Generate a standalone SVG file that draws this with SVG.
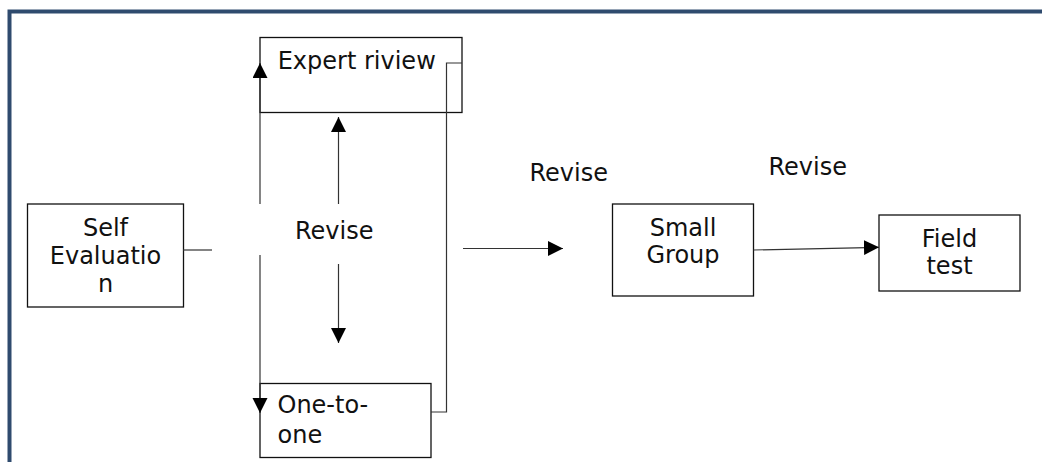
<svg xmlns="http://www.w3.org/2000/svg" width="1042" height="462" viewBox="0 0 1042 462">
<defs>
<style>
.box{fill:#fff;stroke:#111;stroke-width:1.3}
.ln{fill:none;stroke:#333;stroke-width:1.2}
.t{font-family:"DejaVu Sans",sans-serif;font-size:24px;fill:#111}
.c{text-anchor:middle}
</style>
<marker id="ah" markerUnits="userSpaceOnUse" markerWidth="16" markerHeight="16" viewBox="0 0 16 16" refX="15" refY="7.5" orient="auto">
<path d="M0,0 L15,7.5 L0,15 Z" fill="#000"/>
</marker>
</defs>
<rect width="1042" height="462" fill="#fff"/>
<path d="M9.5,462 V11.5 H1042" fill="none" stroke="#2f4b6e" stroke-width="4"/>
<g id="self-evaluation">
<rect class="box" x="27.5" y="204" width="156" height="103"/>
<text class="t c" x="105.5" y="236">Self</text>
<text class="t c" x="105.5" y="264">Evaluatio</text>
<text class="t c" x="105.5" y="292">n</text>
</g>
<g id="expert-review">
<rect class="box" x="260" y="37.5" width="202" height="75"/>
<text class="t" x="277.7" y="69">Expert riview</text>
</g>
<g id="revise-center">
<text class="t" x="295" y="239">Revise</text>
</g>
<g id="one-to-one">
<rect class="box" x="260" y="383.5" width="171" height="74"/>
<text class="t" x="277.5" y="413">One-to-</text>
<text class="t" x="277.5" y="443">one</text>
</g>
<g id="revise-1">
<text class="t" x="529.4" y="181">Revise</text>
</g>
<g id="revise-2">
<text class="t" x="768.4" y="175">Revise</text>
</g>
<g id="small-group">
<rect class="box" x="612.5" y="204" width="141" height="92"/>
<text class="t c" x="683" y="236">Small</text>
<text class="t c" x="683" y="263">Group</text>
</g>
<g id="field-test">
<rect class="box" x="879" y="215" width="141" height="76"/>
<text class="t c" x="949.5" y="247">Field</text>
<text class="t c" x="949.5" y="274">test</text>
</g>
<g id="connectors">
<path class="ln" d="M183,250 H212"/>
<path class="ln" d="M260,204 V63" marker-end="url(#ah)"/>
<path class="ln" d="M338.5,204 V117" marker-end="url(#ah)"/>
<path class="ln" d="M338.5,264 V343" marker-end="url(#ah)"/>
<path class="ln" d="M260,255 V413" marker-end="url(#ah)"/>
<path class="ln" d="M462,63 H446.5 V412 H431"/>
<path class="ln" d="M463,248.5 H563" marker-end="url(#ah)"/>
<path class="ln" d="M753.5,250 L879,247.3" marker-end="url(#ah)"/>
</g>
</svg>
